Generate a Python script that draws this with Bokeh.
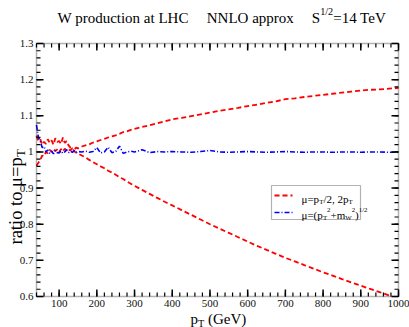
import math
from bokeh.plotting import figure
from bokeh.models import Range1d, Label, BoxAnnotation
from bokeh.core.properties import value
from bokeh.embed import file_html
from bokeh.resources import INLINE

# ---------------- data ----------------
pt = [40, 45, 50, 55, 60, 65, 70, 75, 80, 85, 90, 95, 100, 105, 110, 115, 120, 125, 130, 135,
      140, 145, 150, 160, 170, 180, 190, 200, 210, 220, 230, 240, 250, 260, 270, 280, 290, 300,
      320, 340, 360, 380, 400, 425, 450, 475, 500, 525, 550, 575, 600, 625, 650, 675, 700, 725,
      750, 775, 800, 825, 850, 875, 900, 925, 950, 975, 1000]

ratio_upper = [0.962, 0.970, 0.978, 0.990, 0.988, 1.000, 0.996, 1.006, 1.000, 1.008, 1.002, 1.007,
               0.999, 1.008, 1.001, 1.009, 1.003, 1.007, 1.004, 1.010, 1.006, 1.012, 1.010, 1.015,
               1.018, 1.021, 1.026, 1.029, 1.033, 1.036, 1.040, 1.043, 1.046, 1.050, 1.055, 1.057,
               1.061, 1.064, 1.069, 1.074, 1.079, 1.085, 1.090, 1.094, 1.099, 1.104, 1.109, 1.114,
               1.118, 1.122, 1.127, 1.131, 1.136, 1.140, 1.146, 1.148, 1.152, 1.155, 1.158, 1.161,
               1.164, 1.167, 1.170, 1.172, 1.173, 1.175, 1.177]

ratio_lower = [1.045, 1.030, 1.035, 1.020, 1.028, 1.022, 1.035, 1.025, 1.032, 1.020, 1.038, 1.028,
               1.030, 1.022, 1.040, 1.025, 1.030, 1.018, 1.012, 1.010, 1.002, 0.998, 0.996, 0.990,
               0.985, 0.978, 0.972, 0.966, 0.960, 0.955, 0.948, 0.943, 0.937, 0.930, 0.925, 0.918,
               0.912, 0.906, 0.895, 0.884, 0.873, 0.862, 0.852, 0.839, 0.826, 0.813, 0.800, 0.788,
               0.776, 0.764, 0.752, 0.740, 0.729, 0.718, 0.707, 0.697, 0.687, 0.677, 0.667, 0.658,
               0.648, 0.639, 0.630, 0.621, 0.612, 0.603, 0.594]

ratio_mw = [1.075, 1.040, 1.030, 1.012, 1.015, 1.000, 1.005, 0.996, 1.002, 0.995, 1.004, 0.998,
            0.997, 1.003, 0.996, 1.000, 1.006, 0.998, 1.002, 0.999, 1.003, 0.998, 1.001, 1.000,
            1.002, 0.999, 1.001, 1.012, 0.997, 1.000, 1.013, 0.998, 1.001, 1.016, 0.996, 1.000,
            1.002, 1.000, 1.006, 0.998, 1.001, 1.000, 1.001, 1.000, 0.999, 1.001, 1.004, 1.000,
            0.999, 1.000, 1.001, 1.000, 0.999, 1.000, 1.001, 1.000, 0.999, 1.000, 1.000, 0.999,
            1.000, 1.000, 0.999, 1.000, 1.000, 0.999, 0.999]

x_major = [100, 200, 300, 400, 500, 600, 700, 800, 900, 1000]
x_minor = list(range(40, 1001, 20))
y_major = [0.6, 0.7, 0.8, 0.9, 1.0, 1.1, 1.2, 1.3]
y_minor = [round(0.6 + 0.02 * i, 2) for i in range(36)]
x_tick_labels = [str(v) for v in x_major]
y_tick_labels = [f"{v:g}" for v in y_major]

# ---------------- layout (canvas px) ----------------
W, H = 409, 327
BXL, BXR, BYT, BYB = 36, 398, 43, 296     # plot box edges
X0, X1, Y0, Y1 = 40, 1000, 0.6, 1.3        # data limits of the plot box
FONT = "Liberation Serif"

KX = (BXR - BXL) / (X1 - X0)
KY = (BYB - BYT) / (Y1 - Y0)

p = figure(width=W, height=H, output_backend="svg", toolbar_location=None,
           x_range=Range1d(X0 - BXL / KX, X1 + (W - BXR) / KX),
           y_range=Range1d(Y0 - (H - BYB) / KY, Y1 + BYT / KY),
           min_border_left=0, min_border_right=0, min_border_top=0, min_border_bottom=0,
           x_axis_type=None, y_axis_type=None)
p.grid.visible = False
p.outline_line_color = None
p.background_fill_color = "white"
p.border_fill_color = "white"


def dx(cx):
    return X0 + (cx - BXL) / KX


def dy(cy):
    return Y1 - (cy - BYT) / KY


# ---------------- curves ----------------
p.line(pt, ratio_upper, line_color="#ff0000", line_width=1.8, line_dash="5 3")
low_x = [x for x, v in zip(pt, ratio_lower) if v >= Y0]
low_y = [v for v in ratio_lower if v >= Y0]
p.line(low_x, low_y, line_color="#ff0000", line_width=1.8, line_dash="5 3")
p.line(pt, ratio_mw, line_color="#0000ff", line_width=1.6, line_dash="5 2 1 2")

# ---------------- plot box, ticks, tick labels ----------------
p.add_layout(BoxAnnotation(left=X0, right=X1, bottom=Y0, top=Y1, fill_color=None,
                           line_color="black", line_width=1.5, level="overlay"))

MAJ, MIN = 7, 4
for xs, ln, lw in ((x_major, MAJ, 1.5), (x_minor, MIN, 1.2)):
    p.ray(x=xs, y=[Y0] * len(xs), length=ln, length_units="screen", angle=math.pi / 2,
          line_color="black", line_width=lw)
    p.ray(x=xs, y=[Y1] * len(xs), length=ln, length_units="screen", angle=-math.pi / 2,
          line_color="black", line_width=lw)
for ys, ln, lw in ((y_major, MAJ, 1.5), (y_minor, MIN, 1.2)):
    p.ray(x=[X0] * len(ys), y=ys, length=ln, length_units="screen", angle=0,
          line_color="black", line_width=lw)
    p.ray(x=[X1] * len(ys), y=ys, length=ln, length_units="screen", angle=math.pi,
          line_color="black", line_width=lw)

p.text(x=x_major, y=[dy(BYB + 3)] * len(x_major), text=x_tick_labels,
       text_font=value(FONT), text_font_size="11px", text_color="#111111",
       text_align="center", text_baseline="top")
p.text(x=[dx(BXL - 3)] * len(y_major), y=y_major, text=y_tick_labels,
       text_font=value(FONT), text_font_size="11px", text_color="#111111",
       text_align="right", text_baseline="middle")

# ---------------- rich text (sub/superscripts) ----------------
EM = {' ': .25, '(': .333, ')': .333, '+': .564, ',': .25, '.': .25, '/': .278, '=': .564,
      'A': .722, 'C': .667, 'G': .722, 'H': .722, 'L': .611, 'N': .722, 'O': .722, 'S': .556,
      'T': .611, 'V': .722, 'W': .944, 'a': .444, 'c': .444, 'd': .5, 'e': .444, 'i': .278,
      'm': .778, 'n': .5, 'o': .5, 'p': .5, 'r': .333, 't': .278, 'u': .5, 'x': .5, 'μ': .55}


def twidth(s, size):
    return sum(EM.get(c, .5) for c in s) * size


def rich(cx, cy, segs, fs, vertical=False, small=0.68):
    ax, ay = cx, H - cy
    adv = 0.0
    for text, kind in segs:
        if kind == "gap":
            adv += float(text) * fs
            continue
        size = fs if kind == "n" else fs * small
        shift = {"n": 0.0, "sub": -0.3 * fs, "sup": 0.42 * fs}[kind]
        if vertical:
            lab = Label(x=ax - shift, y=ay + adv, angle=math.pi / 2)
        else:
            lab = Label(x=ax + adv, y=ay + shift)
        lab.x_units = "screen"
        lab.y_units = "screen"
        lab.level = "overlay"
        lab.text = text
        lab.text_font = FONT
        lab.text_font_size = f"{size:.1f}px"
        lab.text_color = "black"
        lab.text_baseline = "alphabetic"
        lab.text_align = "left"
        p.add_layout(lab)
        adv += twidth(text, size)


# title
rich(57, 17, [("W production at LHC", "n"), ("1.2", "gap"), ("NNLO approx", "n"), ("1.2", "gap"),
              ("S", "n"), ("1/2", "sup"), ("=14 TeV", "n")], 15)
# x axis title
rich(190, 318, [("p", "n"), ("T", "sub"), ("0.25", "gap"), ("(GeV)", "n")], 15)
# y axis title
rich(15, 244, [("ratio", "n"), ("0.25", "gap"), ("to", "n"), ("0.25", "gap"),
               ("μ=p", "n"), ("T", "sub")], 18.5, vertical=True)

# ---------------- legend ----------------
BL, BR, BT, BB = 271, 360, 185, 219
p.add_layout(BoxAnnotation(left=dx(BL), right=dx(BR), top=dy(BT), bottom=dy(BB),
                           fill_color="white", fill_alpha=1.0,
                           line_color="black", line_width=1.2, level="annotation"))
key_x = [dx(BL + 3), dx(BL + 21)]
p.line(key_x, [dy(BT + 10)] * 2, line_color="#ff0000", line_width=1.8, line_dash="5 3",
       level="overlay")
p.line(key_x, [dy(BT + 27)] * 2, line_color="#0000ff", line_width=1.6, line_dash="5 2 1 2",
       level="overlay")
rich(BL + 30, BT + 13, [("μ=p", "n"), ("T", "sub"), ("/2,", "n"), ("0.25", "gap"),
                        ("2p", "n"), ("T", "sub")], 11, small=0.62)
rich(BL + 30, BT + 29, [("μ=(p", "n"), ("T", "sub"), ("2", "sup"), ("+m", "n"), ("W", "sub"),
                        ("2", "sup"), (")", "n"), ("1/2", "sup")], 11, small=0.62)

open("out.html", "w").write(file_html(p, INLINE))
